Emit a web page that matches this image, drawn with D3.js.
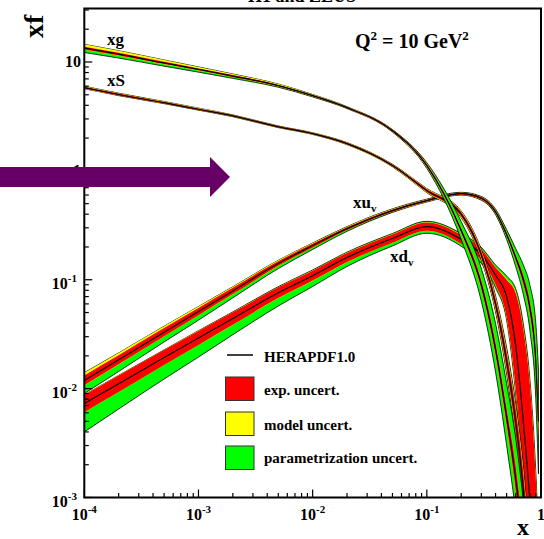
<!DOCTYPE html>
<html>
<head>
<meta charset="utf-8">
<script src="https://cdn.jsdelivr.net/npm/d3@7"></script>
<style>
  body { margin: 0; background: #fff; }
  text { font-family: "Liberation Serif", "Times New Roman", serif; font-weight: bold; }
</style>
</head>
<body>
<svg id="chart" width="544" height="539"></svg>
<script>
// x grid shared by all distributions
const xGrid = [1e-4, 2e-4, 5e-4, 1e-3, 2e-3, 5e-3, 0.01, 0.02, 0.05, 0.1, 0.2, 0.3, 0.4, 0.5, 0.6, 0.7, 0.8, 0.9, 0.95];

// gluon xg: central values and fractional uncertainties (upper = c*(1+u), lower = c/(1+d))
const gluon      = [13.4, 11.8, 9.8, 8.55, 7.43, 6.07, 4.91, 3.81, 2.34, 1.12, 0.283, 0.09, 0.023, 0.0055, 0.0015, 0.00035, 0.00007, 0.00001, 0.000005];
const gluonExp   = [0.03, 0.03, 0.025, 0.02, 0.02, 0.015, 0.015, 0.015, 0.02, 0.03, 0.05, 0.1, 0.15, 0.2, 0.3, 0.4, 0.5, 0.5, 0.5];
const gluonModUp = [0.08, 0.07, 0.06, 0.05, 0.04, 0.03, 0.02, 0.015, 0.01, 0.02, 0.03, 0.05, 0.08, 0.1, 0.15, 0.2, 0.2, 0.2, 0.2];
const gluonModDn = [0.01, 0.01, 0.01, 0.01, 0.01, 0.01, 0.01, 0.01, 0.01, 0.02, 0.03, 0.05, 0.08, 0.1, 0.15, 0.2, 0.2, 0.2, 0.2];
const gluonParUp = [0, 0, 0, 0, 0, 0, 0, 0, 0.01, 0.05, 0.2, 0.4, 0.7, 1.0, 1.3, 1.6, 2, 2, 2];
const gluonParDn = [0.09, 0.08, 0.065, 0.055, 0.045, 0.03, 0.02, 0.01, 0.02, 0.05, 0.2, 0.4, 0.6, 0.8, 1.0, 1.2, 1.5, 1.5, 1.5];

// sea xS
const sea      = [5.82, 5.03, 4.23, 3.68, 3.2, 2.54, 2.2, 1.78, 1.12, 0.66, 0.4, 0.17, 0.06, 0.018, 0.005, 0.0012, 0.0002, 0.00003, 0.00001];
const seaExp   = [0.02, 0.02, 0.015, 0.015, 0.015, 0.015, 0.015, 0.02, 0.02, 0.03, 0.05, 0.08, 0.12, 0.2, 0.3, 0.4, 0.5, 0.5, 0.5];
const seaModUp = [0.02, 0.02, 0.02, 0.02, 0.015, 0.01, 0.01, 0.01, 0.02, 0.03, 0.04, 0.06, 0.1, 0.15, 0.2, 0.3, 0.3, 0.3, 0.3];
const seaModDn = [0.01, 0.01, 0.01, 0.01, 0.01, 0.01, 0.01, 0.01, 0.02, 0.03, 0.04, 0.06, 0.1, 0.15, 0.2, 0.3, 0.3, 0.3, 0.3];
const seaParUp = [0, 0, 0, 0, 0, 0, 0, 0, 0, 0.01, 0.03, 0.05, 0.1, 0.2, 0.3, 0.4, 0.4, 0.4, 0.4];
const seaParDn = [0.01, 0.01, 0.01, 0.005, 0, 0, 0, 0, 0, 0.02, 0.04, 0.06, 0.1, 0.2, 0.3, 0.4, 0.4, 0.4, 0.4];

// valence up xu_v
const uValence = [0.0119, 0.0184, 0.033, 0.051, 0.079, 0.141, 0.206, 0.295, 0.432, 0.533, 0.617, 0.56, 0.42, 0.26, 0.16, 0.1, 0.055, 0.018, 0.005];
const uvExp    = [0.11, 0.1, 0.09, 0.08, 0.07, 0.05, 0.04, 0.03, 0.025, 0.02, 0.02, 0.025, 0.03, 0.04, 0.06, 0.1, 0.15, 0.25, 0.35];
const uvModUp  = [0.14, 0.12, 0.1, 0.08, 0.06, 0.05, 0.04, 0.03, 0.02, 0.015, 0.01, 0.01, 0.015, 0.02, 0.03, 0.04, 0.05, 0.06, 0.06];
const uvModDn  = [0.02, 0.02, 0.02, 0.02, 0.02, 0.02, 0.01, 0.01, 0.01, 0.01, 0.01, 0.01, 0.015, 0.02, 0.03, 0.04, 0.05, 0.06, 0.06];
const uvParUp  = [0, 0, 0, 0, 0, 0, 0, 0.01, 0.02, 0.02, 0.02, 0.03, 0.05, 0.1, 0.2, 0.35, 0.6, 1.2, 2];
const uvParDn  = [0.3, 0.26, 0.21, 0.18, 0.14, 0.1, 0.075, 0.05, 0.03, 0.02, 0.02, 0.03, 0.05, 0.1, 0.2, 0.35, 0.6, 1.2, 2];

// valence down xd_v (experimental band asymmetric at high x)
const dValence = [0.0073, 0.0111, 0.0193, 0.0292, 0.044, 0.076, 0.109, 0.160, 0.239, 0.308, 0.235, 0.17, 0.11, 0.07, 0.025, 0.005, 0.0009, 0.0001, 0.00003];
const dvExpUp  = [0.2, 0.19, 0.17, 0.16, 0.14, 0.12, 0.11, 0.1, 0.09, 0.09, 0.1, 0.13, 0.18, 0.43, 2, 6, 11, 14, 12];
const dvExpDn  = [0.2, 0.19, 0.17, 0.16, 0.14, 0.12, 0.11, 0.1, 0.09, 0.09, 0.1, 0.13, 0.22, 0.55, 1.5, 2.3, 3.5, 4, 4];
const dvModUp  = [0.03, 0.03, 0.03, 0.03, 0.03, 0.03, 0.03, 0.03, 0.03, 0.03, 0.03, 0.04, 0.06, 0.15, 0.6, 1.5, 3, 3, 3];
const dvModDn  = [0.03, 0.03, 0.03, 0.03, 0.03, 0.03, 0.03, 0.03, 0.03, 0.03, 0.03, 0.04, 0.06, 0.15, 0.5, 0.8, 1, 1, 1];
const dvParUp  = [0.02, 0.02, 0.03, 0.04, 0.05, 0.06, 0.06, 0.06, 0.06, 0.07, 0.08, 0.1, 0.15, 0.3, 1, 3, 5, 8, 8];
const dvParDn  = [0.8, 0.68, 0.55, 0.47, 0.38, 0.3, 0.23, 0.18, 0.14, 0.12, 0.12, 0.15, 0.2, 0.3, 0.8, 1.5, 2.5, 3, 3];

// axis tick labels
const xTickValues = [1e-4, 1e-3, 1e-2, 1e-1, 1];
const xTickLabels = [["10", "-4"], ["10", "-3"], ["10", "-2"], ["10", "-1"], ["1", ""]];
const yTickValues = [1e-3, 1e-2, 1e-1, 1, 10];
const yTickLabels = [["10", "-3"], ["10", "-2"], ["10", "-1"], ["1", ""], ["10", ""]];

const legendItems = ["HERAPDF1.0", "exp. uncert.", "model uncert.", "parametrization uncert."];
const bandColors = { exp: "#ff0000", model: "#ffff00", par: "#00ff00" };

const svg = d3.select("#chart");
const frame = { left: 84.3, right: 541, top: 8.5, bottom: 497.5 };

const x = d3.scaleLog().domain([1e-4, 1]).range([frame.left, frame.right]);
const y = d3.scaleLog().domain([1e-3, 31]).range([frame.bottom, frame.top]);

// title above the frame (mostly outside the canvas)
svg.append("text").attr("x", 302).attr("y", 2).attr("text-anchor", "middle")
  .attr("font-size", 18).text("H1 and ZEUS");

svg.append("defs").append("clipPath").attr("id", "plotClip")
  .append("rect").attr("x", frame.left).attr("y", frame.top)
  .attr("width", frame.right - frame.left).attr("height", frame.bottom - frame.top);

const plot = svg.append("g").attr("clip-path", "url(#plotClip)");

// combine fractional uncertainties in quadrature
function quad(...arrs) {
  return xGrid.map((_, i) => Math.sqrt(arrs.reduce((s, a) => s + a[i] * a[i], 0)));
}

const area = d3.area().curve(d3.curveMonotoneX)
  .x(d => x(d.x)).y0(d => y(d.lo)).y1(d => y(d.hi));
const line = d3.line().curve(d3.curveMonotoneX)
  .x(d => x(d.x)).y(d => y(d.v));

function drawPdf(c, eUp, eDn, mu, md, pu, pd) {
  const layers = [
    { up: quad(eUp, mu, pu), dn: quad(eDn, md, pd), fill: bandColors.par, stroke: "#000" },
    { up: quad(eUp, mu), dn: quad(eDn, md), fill: bandColors.model, stroke: "none" },
    { up: quad(eUp), dn: quad(eDn), fill: bandColors.exp, stroke: "none" }
  ];
  layers.forEach(L => {
    const pts = xGrid.map((xv, i) => ({ x: xv, lo: c[i] / (1 + L.dn[i]), hi: c[i] * (1 + L.up[i]) }));
    plot.append("path").attr("d", area(pts)).attr("fill", L.fill)
      .attr("stroke", L.stroke).attr("stroke-width", 0.8);
  });
  plot.append("path").attr("d", line(xGrid.map((xv, i) => ({ x: xv, v: c[i] }))))
    .attr("fill", "none").attr("stroke", "#000").attr("stroke-width", 1.2);
}

drawPdf(uValence, uvExp, uvExp, uvModUp, uvModDn, uvParUp, uvParDn);
drawPdf(dValence, dvExpUp, dvExpDn, dvModUp, dvModDn, dvParUp, dvParDn);
drawPdf(sea, seaExp, seaExp, seaModUp, seaModDn, seaParUp, seaParDn);
drawPdf(gluon, gluonExp, gluonExp, gluonModUp, gluonModDn, gluonParUp, gluonParDn);

// frame
svg.append("rect").attr("x", frame.left).attr("y", frame.top)
  .attr("width", frame.right - frame.left).attr("height", frame.bottom - frame.top)
  .attr("fill", "none").attr("stroke", "#000").attr("stroke-width", 2);

// ticks drawn inward
const xMinor = [], yMinor = [];
for (let p = -4; p < 0; p++) for (let k = 2; k <= 9; k++) xMinor.push(k * Math.pow(10, p));
for (let p = -3; p < 2; p++) for (let k = 2; k <= 9; k++) { const v = k * Math.pow(10, p); if (v < 31) yMinor.push(v); }

const ticks = svg.append("g").attr("stroke", "#000").attr("stroke-width", 1.2);
xTickValues.forEach(v => ticks.append("line").attr("x1", x(v)).attr("x2", x(v))
  .attr("y1", frame.bottom).attr("y2", frame.bottom - 8));
xMinor.forEach(v => ticks.append("line").attr("x1", x(v)).attr("x2", x(v))
  .attr("y1", frame.bottom).attr("y2", frame.bottom - 4.5));
yTickValues.forEach(v => ticks.append("line").attr("y1", y(v)).attr("y2", y(v))
  .attr("x1", frame.left).attr("x2", frame.left + 8));
yMinor.forEach(v => ticks.append("line").attr("y1", y(v)).attr("y2", y(v))
  .attr("x1", frame.left).attr("x2", frame.left + 4.5));

// tick labels with exponents
function powLabel(sel, parts) {
  sel.append("tspan").text(parts[0]);
  if (parts[1]) sel.append("tspan").attr("font-size", 11).attr("dy", -7).text(parts[1]);
}
xTickValues.forEach((v, i) => {
  const t = svg.append("text").attr("x", x(v)).attr("y", 520)
    .attr("text-anchor", "middle").attr("font-size", 16);
  powLabel(t, xTickLabels[i]);
});
yTickValues.forEach((v, i) => {
  const hasExp = !!yTickLabels[i][1];
  const t = svg.append("text").attr("x", hasExp ? 77 : 81)
    .attr("y", y(v) + (hasExp ? 9 : 5.5))
    .attr("text-anchor", "end").attr("font-size", 16);
  powLabel(t, yTickLabels[i]);
});

// axis titles
svg.append("text").attr("x", 517).attr("y", 535).attr("font-size", 24).text("x");
svg.append("text").attr("transform", "translate(43,38) rotate(-90)").attr("font-size", 28).text("xf");

// scale label
const q = svg.append("text").attr("x", 355).attr("y", 48).attr("font-size", 20);
q.append("tspan").text("Q");
q.append("tspan").attr("font-size", 13).attr("dy", -8).text("2");
q.append("tspan").attr("dy", 8).text(" = 10 GeV");
q.append("tspan").attr("font-size", 13).attr("dy", -8).text("2");

// distribution labels
function curveLabel(px, py, main, sub) {
  const t = svg.append("text").attr("x", px).attr("y", py).attr("font-size", 17);
  t.append("tspan").text(main);
  if (sub) t.append("tspan").attr("font-size", 11).attr("dy", 4).text(sub);
}
curveLabel(107, 45, "xg");
curveLabel(107, 86, "xS");
curveLabel(353, 208, "xu", "v");
curveLabel(390, 262, "xd", "v");

// legend
const lg = svg.append("g");
lg.append("line").attr("x1", 227).attr("x2", 253).attr("y1", 355).attr("y2", 355)
  .attr("stroke", "#000").attr("stroke-width", 1.5);
const boxTops = [377, 412, 446];
const boxFills = [bandColors.exp, bandColors.model, bandColors.par];
boxTops.forEach((t, i) => lg.append("rect").attr("x", 225.5).attr("y", t).attr("width", 28.5).attr("height", 23.5)
  .attr("fill", boxFills[i]).attr("stroke", "#333").attr("stroke-width", 1));
const textBase = [362, 395, 430, 463];
legendItems.forEach((s, i) => lg.append("text").attr("x", 264).attr("y", textBase[i])
  .attr("font-size", 15).text(s));

// pointer arrow
svg.append("polygon")
  .attr("points", [[0, 167], [210, 167], [210, 157], [230, 177], [210, 197], [210, 187], [0, 187]].join(" "))
  .attr("fill", "#660066");
</script>
</body>
</html>
